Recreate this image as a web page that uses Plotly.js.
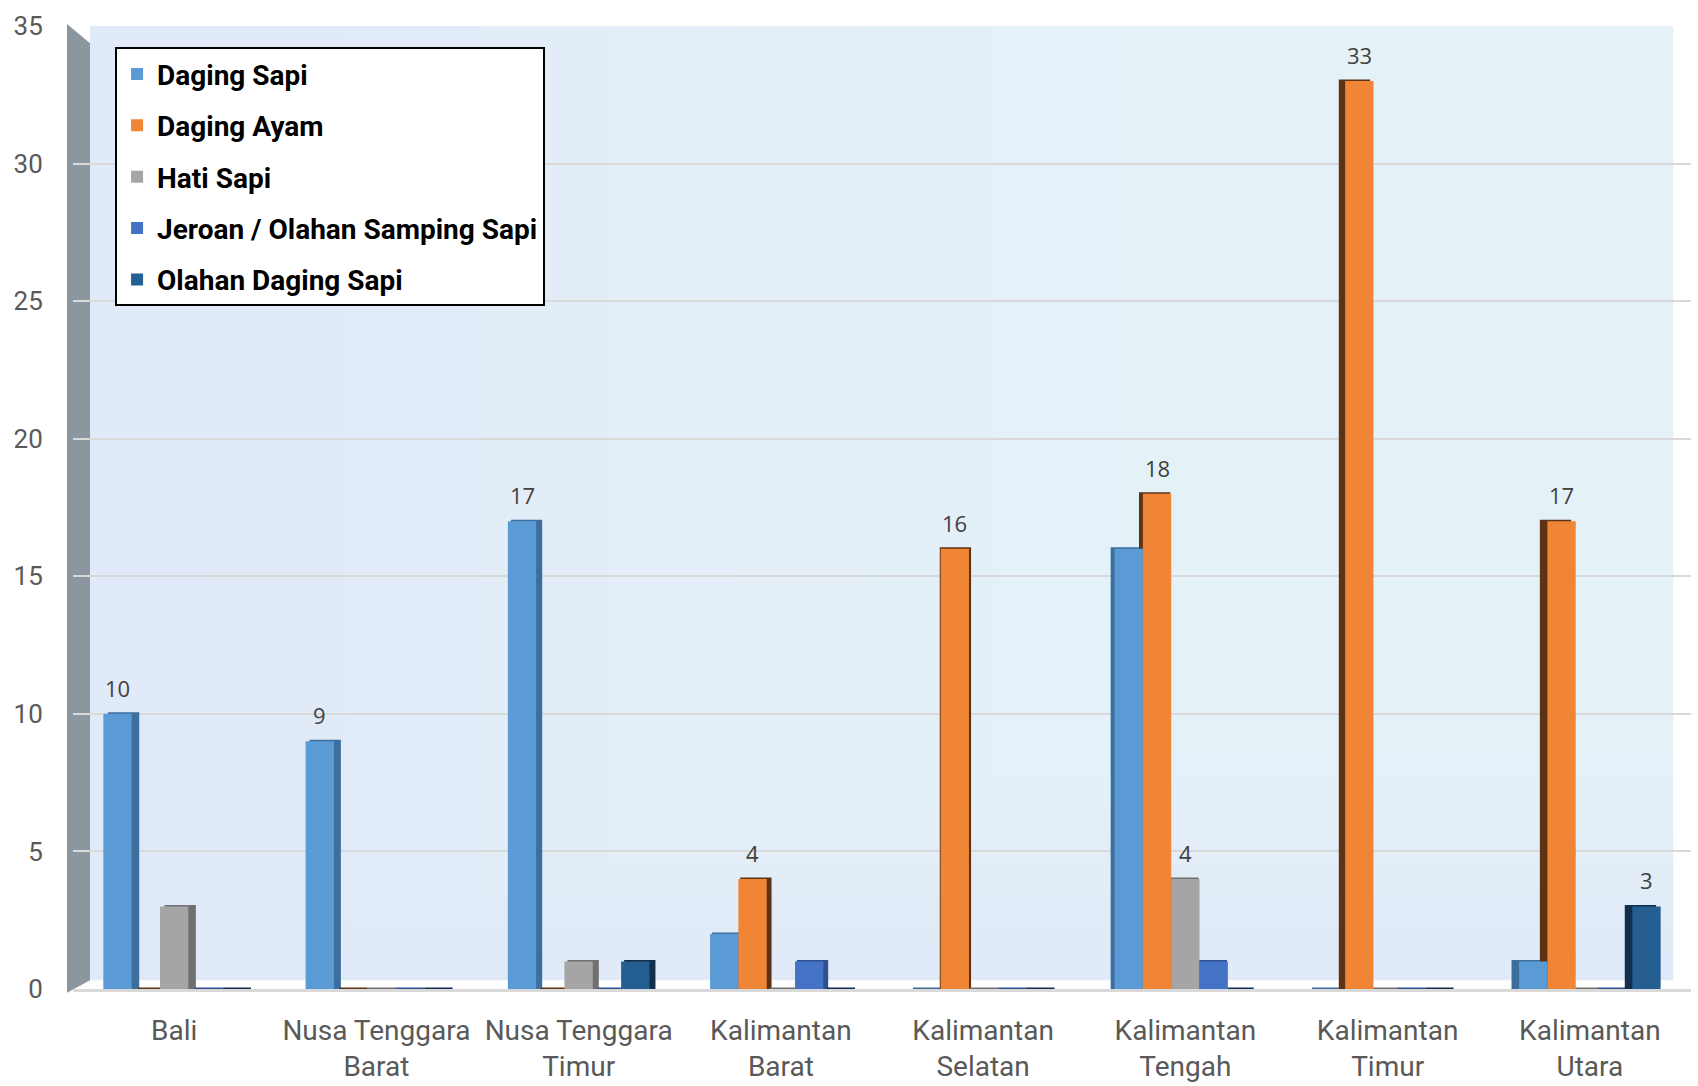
<!DOCTYPE html>
<html>
<head>
<meta charset="utf-8">
<script src="https://cdn.plot.ly/plotly-3.0.1.min.js"></script>
<style>html,body{margin:0;padding:0;background:#fff;}#chart{width:1698px;height:1086px;}</style>
</head>
<body>
<div id="chart"></div>
<script>
const categories = ["Bali", "Nusa Tenggara<br>Barat", "Nusa Tenggara<br>Timur", "Kalimantan<br>Barat", "Kalimantan<br>Selatan", "Kalimantan<br>Tengah", "Kalimantan<br>Timur", "Kalimantan<br>Utara"];
const seriesNames = ["Daging Sapi", "Daging Ayam", "Hati Sapi", "Jeroan / Olahan Samping Sapi", "Olahan Daging Sapi"];
const dagingSapi   = [10, 9, 17, 2, 0, 16, 0, 1];
const dagingAyam   = [0, 0, 0, 4, 16, 18, 33, 17];
const hatiSapi     = [3, 0, 1, 0, 0, 4, 0, 0];
const jeroan       = [0, 0, 0, 1, 0, 1, 0, 0];
const olahanDaging = [0, 0, 1, 0, 0, 0, 0, 3];
const labelSapi    = ["10", "9", "17", "", "", "", "", ""];
const labelAyam    = ["", "", "", "4", "16", "18", "33", "17"];
const labelHati    = ["", "", "", "", "", "4", "", ""];
const labelJeroan  = ["", "", "", "", "", "", "", ""];
const labelOlahan  = ["", "", "", "", "", "", "", "3"];
const yTicks = [0, 5, 10, 15, 20, 25, 30, 35];

const colors = ["#5B9BD5", "#F08536", "#A5A5A5", "#4472C4", "#255E91"];
const sideColors = ["#3C6E9E", "#5E3315", "#707070", "#2F4F91", "#12304D"];
const values = [dagingSapi, dagingAyam, hatiSapi, jeroan, olahanDaging];
const labels = [labelSapi, labelAyam, labelHati, labelJeroan, labelOlahan];

const W = 1698, H = 1086;
const M = {l: 73, r: 7, t: 26, b: 97};
const groupStart = -0.35, barW = 0.14, depth = 0.03;
// perspective: side face to the right on the left half, to the left on the right half
const perspective = [1, 0.9, 0.75, 0.55, 0.1, -0.4, -0.8, -1];
const catPx = (W - M.l - M.r) / categories.length;

const depthTraces = values.map((v, i) => ({
  type: "bar", x: categories, y: v,
  offset: perspective.map(p => groupStart + i * barW + p * depth), width: barW,
  marker: {color: sideColors[i], line: {color: sideColors[i], width: 3}},
  showlegend: false, legendgroup: "g" + i, hoverinfo: "skip"
}));
const frontTraces = values.map((v, i) => ({
  type: "bar", name: seriesNames[i], x: categories, y: v,
  offset: groupStart + i * barW, width: barW,
  marker: {color: colors[i], line: {width: 0}},
  legendgroup: "g" + i, hoverinfo: "x+y+name"
}));

const annotations = [];
labels.forEach((lab, i) => {
  lab.forEach((t, j) => {
    if (t !== "") {
      annotations.push({
        x: categories[j], y: values[i][j], xref: "x", yref: "y",
        text: t, showarrow: false, yanchor: "bottom",
        xshift: (groupStart + i * barW + barW / 2) * catPx, yshift: 9,
        font: {family: "Open Sans, sans-serif", size: 22, color: "#404040"}
      });
    }
  });
});

const shapes = [
  {type: "rect", xref: "paper", yref: "paper", x0: 0.0105, x1: 0.989, y0: 0.009, y1: 1, fillcolor: "#dfe9f8", line: {width: 0}, layer: "below"}
];
for (let k = 0; k < 12; k++) {
  shapes.push({type: "rect", xref: "paper", yref: "paper", x0: 0.0105 + k * 0.08, x1: 0.989, y0: 0.009 + k * 0.03, y1: 1,
    fillcolor: "rgba(245,252,255,0.07)", line: {width: 0}, layer: "below"});
}
shapes.push({type: "path", xref: "paper", yref: "paper",
  path: "M -0.0037,1.002 L 0.0105,0.982 L 0.0105,0.009 L -0.0037,-0.004 Z",
  fillcolor: "#8c969f", line: {width: 0}, layer: "below"});

const layout = {
  width: W, height: H,
  margin: M,
  paper_bgcolor: "#ffffff",
  plot_bgcolor: "rgba(0,0,0,0)",
  barmode: "overlay",
  showlegend: true,
  legend: {
    x: 0.026, y: 0.978, xanchor: "left", yanchor: "top",
    bgcolor: "#ffffff", bordercolor: "#000000", borderwidth: 2,
    font: {family: "Roboto, sans-serif", size: 28, color: "#000000", weight: "bold"},
    tracegroupgap: 12,
    traceorder: "grouped",
    itemwidth: 30
  },
  xaxis: {
    type: "category",
    tickfont: {family: "Roboto, sans-serif", size: 28, color: "#595959"},
    showgrid: false,
    showline: true, linecolor: "#d9d9d9", linewidth: 3,
    ticks: "outside", ticklen: 14, tickcolor: "rgba(0,0,0,0)",
    fixedrange: true
  },
  yaxis: {
    range: [0, 35],
    tickvals: yTicks,
    tickfont: {family: "Roboto, sans-serif", size: 26, color: "#595959"},
    showgrid: true, gridcolor: "#d9d9d9", gridwidth: 2,
    zeroline: false,
    ticks: "outside", ticklen: 24, tickcolor: "rgba(0,0,0,0)",
    showline: false,
    fixedrange: true
  },
  annotations: annotations,
  shapes: shapes
};

Plotly.newPlot("chart", depthTraces.concat(frontTraces), layout, {displayModeBar: false, staticPlot: true});
</script>
</body>
</html>
